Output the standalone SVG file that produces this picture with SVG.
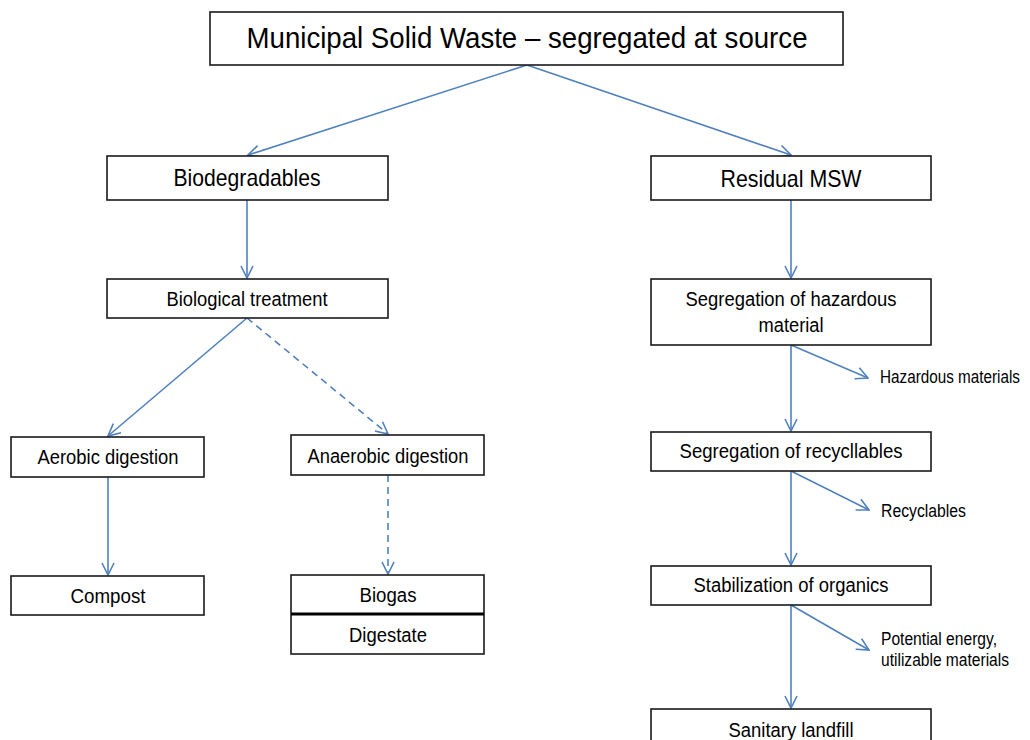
<svg xmlns="http://www.w3.org/2000/svg" width="1030" height="740" viewBox="0 0 1030 740">
  <style>
    .box { fill: #ffffff; stroke: #1a1a1a; stroke-width: 1.6; }
    .lbl { font-family: "Liberation Sans", Arial, sans-serif; fill: #000000; text-anchor: middle; }
    .side { font-family: "Liberation Sans", Arial, sans-serif; fill: #000000; font-size: 17.5px; }
    .edge { fill: none; stroke: #4f81bd; stroke-width: 1.6; marker-end: url(#vhead); }
    .dash { stroke-dasharray: 7 5; }
  </style>
  <defs>
    <marker id="vhead" viewBox="0 0 14 14" refX="13" refY="7" markerWidth="14" markerHeight="14" markerUnits="userSpaceOnUse" orient="auto">
      <path d="M1,1 L13,7 L1,13" fill="none" stroke="#4f81bd" stroke-width="1.6"/>
    </marker>
  </defs>
  <rect width="1030" height="740" fill="#ffffff"/>

  <g id="connectors">
    <line class="edge" x1="527" y1="65" x2="248" y2="155"/>
    <line class="edge" x1="527" y1="65" x2="791" y2="155"/>
    <line class="edge" x1="247" y1="200" x2="247" y2="278"/>
    <line class="edge" x1="247" y1="318" x2="108" y2="436"/>
    <line class="edge dash" x1="247" y1="318" x2="388" y2="434"/>
    <line class="edge" x1="108" y1="477" x2="108" y2="575"/>
    <line class="edge dash" x1="388" y1="475" x2="388" y2="574"/>
    <line class="edge" x1="791" y1="200" x2="791" y2="278"/>
    <line class="edge" x1="791" y1="345" x2="791" y2="431"/>
    <line class="edge" x1="791" y1="345" x2="868" y2="378"/>
    <line class="edge" x1="791" y1="471" x2="791" y2="565"/>
    <line class="edge" x1="791" y1="471" x2="869" y2="510"/>
    <line class="edge" x1="791" y1="605" x2="791" y2="708"/>
    <line class="edge" x1="791" y1="605" x2="869" y2="650"/>
  </g>

  <g id="msw">
    <rect class="box" x="210" y="12" width="633" height="53"/>
    <text class="lbl" x="527" y="48" font-size="30" textLength="561" lengthAdjust="spacingAndGlyphs">Municipal Solid Waste – segregated at source</text>
  </g>

  <g id="biodegradables">
    <rect class="box" x="107" y="156" width="281" height="44"/>
    <text class="lbl" x="247" y="186" font-size="24" textLength="147" lengthAdjust="spacingAndGlyphs">Biodegradables</text>
  </g>

  <g id="residual">
    <rect class="box" x="651" y="156" width="280" height="44"/>
    <text class="lbl" x="791" y="187" font-size="24" textLength="141" lengthAdjust="spacingAndGlyphs">Residual MSW</text>
  </g>

  <g id="biological-treatment">
    <rect class="box" x="107" y="279" width="281" height="39"/>
    <text class="lbl" x="247" y="306" font-size="20" textLength="161" lengthAdjust="spacingAndGlyphs">Biological treatment</text>
  </g>

  <g id="seg-hazardous">
    <rect class="box" x="651" y="279" width="280" height="66"/>
    <text class="lbl" x="791" y="306" font-size="20" textLength="211" lengthAdjust="spacingAndGlyphs">Segregation of hazardous</text>
    <text class="lbl" x="791" y="332" font-size="20" textLength="65" lengthAdjust="spacingAndGlyphs">material</text>
  </g>

  <g id="aerobic">
    <rect class="box" x="11" y="437" width="193" height="40"/>
    <text class="lbl" x="108" y="464" font-size="20" textLength="141" lengthAdjust="spacingAndGlyphs">Aerobic digestion</text>
  </g>

  <g id="anaerobic">
    <rect class="box" x="291" y="435" width="193" height="40"/>
    <text class="lbl" x="388" y="463" font-size="20" textLength="161" lengthAdjust="spacingAndGlyphs">Anaerobic digestion</text>
  </g>

  <g id="compost">
    <rect class="box" x="11" y="576" width="193" height="39"/>
    <text class="lbl" x="108" y="603" font-size="20" textLength="75" lengthAdjust="spacingAndGlyphs">Compost</text>
  </g>

  <g id="biogas-digestate">
    <rect class="box" x="291" y="575" width="193" height="79"/>
    <line x1="291" y1="614" x2="484" y2="614" stroke="#000000" stroke-width="3"/>
    <text class="lbl" x="388" y="602" font-size="20" textLength="57" lengthAdjust="spacingAndGlyphs">Biogas</text>
    <text class="lbl" x="388" y="642" font-size="20" textLength="78" lengthAdjust="spacingAndGlyphs">Digestate</text>
  </g>

  <g id="seg-recyclables">
    <rect class="box" x="651" y="432" width="280" height="39"/>
    <text class="lbl" x="791" y="458" font-size="20" textLength="223" lengthAdjust="spacingAndGlyphs">Segregation of recycllables</text>
  </g>

  <g id="stabilization">
    <rect class="box" x="651" y="566" width="280" height="39"/>
    <text class="lbl" x="791" y="592" font-size="20" textLength="195" lengthAdjust="spacingAndGlyphs">Stabilization of organics</text>
  </g>

  <g id="landfill">
    <rect class="box" x="651" y="709" width="280" height="45"/>
    <text class="lbl" x="791" y="737" font-size="20" textLength="125" lengthAdjust="spacingAndGlyphs">Sanitary landfill</text>
  </g>

  <g id="outputs">
    <text class="side" x="880" y="383" textLength="140" lengthAdjust="spacingAndGlyphs">Hazardous materials</text>
    <text class="side" x="881" y="517" textLength="85" lengthAdjust="spacingAndGlyphs">Recyclables</text>
    <text class="side" x="881" y="645" textLength="116" lengthAdjust="spacingAndGlyphs">Potential energy,</text>
    <text class="side" x="881" y="666" textLength="128" lengthAdjust="spacingAndGlyphs">utilizable materials</text>
  </g>
</svg>
